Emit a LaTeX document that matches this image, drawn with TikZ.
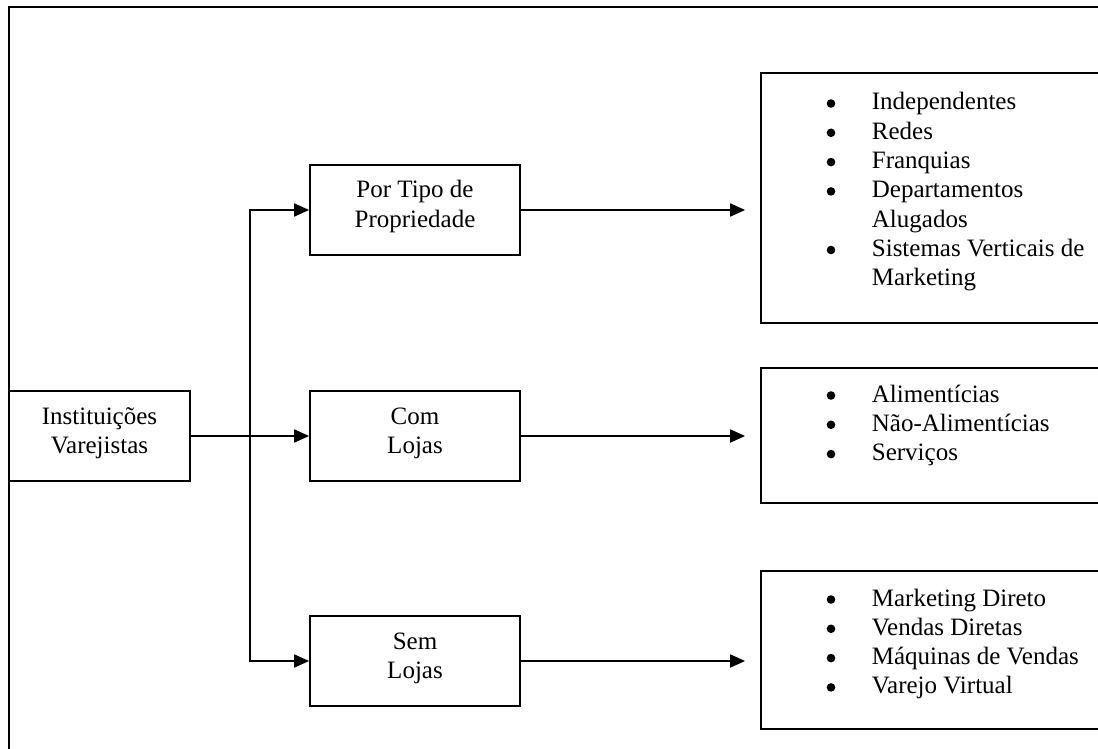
\documentclass[tikz,border=0pt]{standalone}
\usepackage{fontspec}
\setmainfont{Liberation Serif}
\usetikzlibrary{arrows.meta,calc}
\begin{document}
\begin{tikzpicture}[x=0.5pt,y=-0.5pt,line width=0.9pt,
  box/.style={draw,inner sep=0pt,minimum width=105pt,minimum height=45pt},
  listbox/.style={draw,inner sep=0pt,minimum width=180pt},
  txt/.style={inner sep=0pt,anchor=base,font=\fontsize{12.5}{14}\selectfont},
  itm/.style={inner sep=0pt,anchor=base west,font=\fontsize{12.5}{14}\selectfont},
  dot/.style={circle,fill,draw=none,inner sep=0pt,minimum size=4.3pt},
  arr/.style={-{Triangle[length=7.5pt,width=6.5pt]}}]
% one list entry: a bullet dot at x=831 and the text starting at x=871
\newcommand\entry[3]{%
  \node[dot] (#1d) at (831,#2-6.5) {};
  \node[itm] (#1) at (871,#2) {#3};}
\useasboundingbox (0,0) rectangle (1098,749);
\clip (0,0) rectangle (1098,749);

% outer frame (runs past the right and bottom edges)
\draw (9,7) rectangle (1140,790);

% boxes
\node[box,minimum width=90.5pt] (inst) at (99.5,436) {};
\node[box] (tipo) at (415,210) {};
\node[box] (com)  at (415,436) {};
\node[box] (sem)  at (415,661) {};
\node[listbox,minimum height=125pt]  (props)    at (941,198)   {};
\node[listbox,minimum height=67.5pt] (lojas)    at (941,435.5) {};
\node[listbox,minimum height=79pt]   (semlojas) at (941,650)   {};

% box captions
\node[txt] (inst1) at (99.5,424)  {Instituições};
\node[txt] (inst2) at (99.5,453.3){Varejistas};
\node[txt] (tipo1) at (415,198)   {Por Tipo de};
\node[txt] (tipo2) at (415,227.3) {Propriedade};
\node[txt] (com1)  at (415,424)   {Com};
\node[txt] (com2)  at (415,453.3) {Lojas};
\node[txt] (sem1)  at (415,649)   {Sem};
\node[txt] (sem2)  at (415,678.3) {Lojas};

% bullet lists
\entry{p1}{110}{Independentes}
\entry{p2}{139.3}{Redes}
\entry{p3}{168.6}{Franquias}
\entry{p4}{197.9}{Departamentos}
\node[itm] (p5) at (871,227.2) {Alugados};
\entry{p6}{256.5}{Sistemas Verticais de}
\node[itm] (p7) at (871,285.8) {Marketing};

\entry{l1}{402}{Alimentícias}
\entry{l2}{431.3}{Não-Alimentícias}
\entry{l3}{460.6}{Serviços}

\entry{s1}{606}{Marketing Direto}
\entry{s2}{635.3}{Vendas Diretas}
\entry{s3}{664.6}{Máquinas de Vendas}
\entry{s4}{693.9}{Varejo Virtual}

% connectors
\coordinate (split) at ($(inst.east)!0.5!(com.west)$);
\draw[arr] (inst.east) -- (com.west);
\draw[arr] (split) |- (tipo.west);
\draw[arr] (split) |- (sem.west);
\draw[arr,shorten >=7.5pt] (tipo.east) -- (tipo.east -| props.west);
\draw[arr,shorten >=7.5pt] (com.east)  -- (com.east -| lojas.west);
\draw[arr,shorten >=7.5pt] (sem.east)  -- (sem.east -| semlojas.west);
\end{tikzpicture}
\end{document}
